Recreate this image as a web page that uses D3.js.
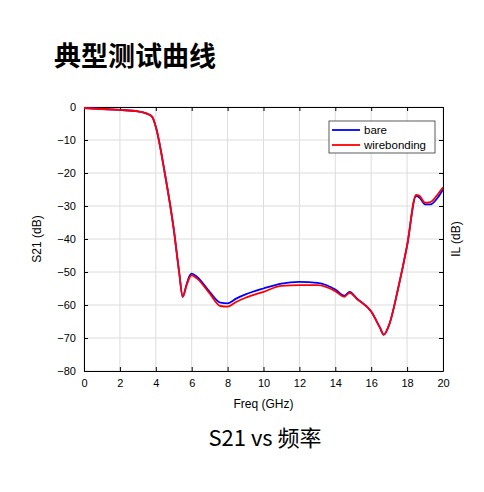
<!DOCTYPE html>
<html><head><meta charset="utf-8">
<script src="https://cdn.jsdelivr.net/npm/d3@7"></script>
<style>body{margin:0;background:#fff}svg{display:block}</style>
</head><body>
<script>
// frequency points (GHz) and measured S21 (dB)
const freq = [0,1,2,3,3.5,3.8,4.0,4.5,5.0,5.3,5.5,5.7,5.9,6.0,6.3,7.0,7.6,8.0,8.5,9.0,10,11,12,13,14,14.5,14.8,15.2,16,16.5,16.7,17.0,17.5,18,18.5,18.7,19.0,19.3,19.7,20];
const bare = [-0.3,-0.6,-0.9,-1.3,-2.0,-3.0,-6,-20,-37,-50,-57.5,-54,-51,-50.5,-51.5,-56,-59.3,-59.5,-58,-56.8,-55,-53.5,-53,-53.3,-55.3,-57.2,-56,-58,-62,-67,-69,-66,-55,-42,-27,-27.5,-29.5,-29.5,-27.5,-25];
const wire = [-0.3,-0.6,-0.9,-1.3,-2.0,-3.0,-6,-20,-37,-50,-57.5,-54.3,-51.5,-51,-52,-56.5,-60.3,-60.5,-59,-57.8,-56,-54.2,-54,-54,-55.8,-57.5,-56.3,-58.2,-62,-67,-69,-66,-55,-42,-26.6,-27,-29,-28.8,-26.5,-24.3];
const xTicks = [0,2,4,6,8,10,12,14,16,18,20];
const yTicks = [0,-10,-20,-30,-40,-50,-60,-70,-80];
const seriesNames = ["bare","wirebonding"];
const seriesColors = ["#0000ff","#ff0000"];

const W = 484, H = 492;
const svg = d3.select("body").append("svg").attr("width", W).attr("height", H)
  .style("font-family", "Arial, 'Liberation Sans', sans-serif");

svg.append("text").attr("x", 54).attr("y", 66).text("典型测试曲线")
  .style("font-family", "'Noto Sans CJK SC'").style("font-weight", "bold").style("font-size", "27px");

const L = 84, R = 443, T = 107, B = 371;
const x = d3.scaleLinear().domain([0,20]).range([L,R]);
const y = d3.scaleLinear().domain([-80,0]).range([B,T]);

// grid
svg.append("g").selectAll("line").data(xTicks).join("line")
  .attr("x1", d=>x(d)).attr("x2", d=>x(d)).attr("y1", T).attr("y2", B).attr("stroke", "#dcdcdc");
svg.append("g").selectAll("line").data(yTicks).join("line")
  .attr("y1", d=>y(d)).attr("y2", d=>y(d)).attr("x1", L).attr("x2", R).attr("stroke", "#dcdcdc");

// axes with inward ticks
const fs = "11px";
svg.append("g").attr("transform", `translate(0,${B})`)
  .call(d3.axisBottom(x).tickValues(xTicks).tickSizeInner(-4).tickSizeOuter(0).tickPadding(8))
  .call(g=>g.selectAll("text").style("font-size", fs));
svg.append("g").attr("transform", `translate(0,${T})`)
  .call(d3.axisTop(x).tickValues(xTicks).tickSizeInner(-4).tickSizeOuter(0).tickFormat(""));
svg.append("g").attr("transform", `translate(${L},0)`)
  .call(d3.axisLeft(y).tickValues(yTicks).tickSizeInner(-4).tickSizeOuter(0).tickPadding(8))
  .call(g=>g.selectAll("text").style("font-size", fs));
svg.append("g").attr("transform", `translate(${R},0)`)
  .call(d3.axisRight(y).tickValues(yTicks).tickSizeInner(-4).tickSizeOuter(0).tickFormat(""));
svg.selectAll(".domain").attr("stroke", "#000");

// lines
const line = d3.line().x((d,i)=>x(freq[i])).y(d=>y(d)).curve(d3.curveMonotoneX);
[bare, wire].forEach((s,i)=>{
  svg.append("path").datum(s).attr("d", line).attr("fill", "none")
    .attr("stroke", seriesColors[i]).attr("stroke-width", 1.8);
});

// legend
const lg = svg.append("g");
lg.append("rect").attr("x", 329).attr("y", 121).attr("width", 106).attr("height", 32)
  .attr("fill", "#fff").attr("stroke", "#333").attr("stroke-width", 0.8);
seriesNames.forEach((n,i)=>{
  const yy = 130 + i*15;
  lg.append("line").attr("x1", 332).attr("x2", 360).attr("y1", yy).attr("y2", yy)
    .attr("stroke", seriesColors[i]).attr("stroke-width", 1.8);
  lg.append("text").attr("x", 364).attr("y", yy+4).text(n).style("font-size", "11.5px");
});

// axis labels
svg.append("text").attr("x", (L+R)/2).attr("y", 408).attr("text-anchor", "middle")
  .text("Freq (GHz)").style("font-size", "12px");
svg.append("text").attr("transform", `translate(41,${(T+B)/2}) rotate(-90)`).attr("text-anchor", "middle")
  .text("S21 (dB)").style("font-size", "12px");
svg.append("text").attr("transform", `translate(460,${(T+B)/2}) rotate(-90)`).attr("text-anchor", "middle")
  .text("IL (dB)").style("font-size", "12px");

svg.append("text").attr("x", 265).attr("y", 446).attr("text-anchor", "middle")
  .text("S21 vs 频率").style("font-family", "'Noto Sans CJK SC'").style("font-size", "22px");
</script>
</body></html>
